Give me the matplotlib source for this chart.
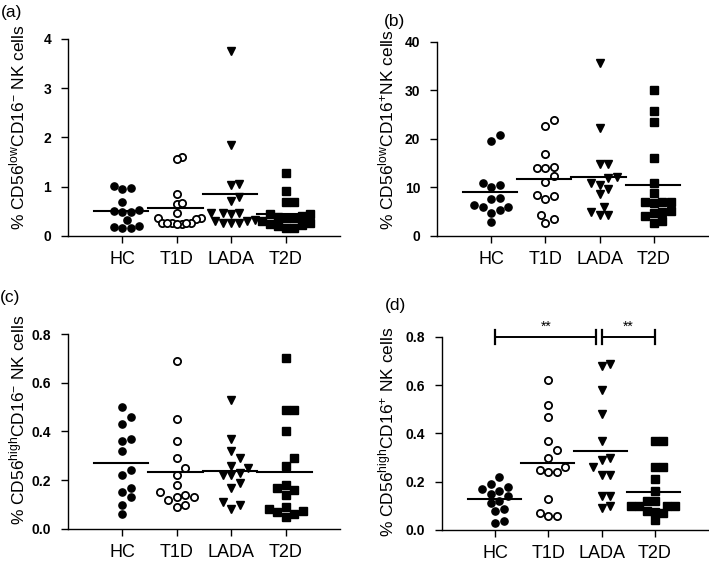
import numpy as np
import matplotlib
matplotlib.use('Agg')
import matplotlib.pyplot as plt

plt.rcParams.update({
    'font.family': 'Liberation Sans',
    'mathtext.fontset': 'custom',
    'mathtext.rm': 'Liberation Sans',
    'mathtext.it': 'Liberation Sans:italic',
    'mathtext.bf': 'Liberation Sans:bold',
})

# ── Data ─────────────────────────────────────────────────────────────────────
GROUPS = ['HC', 'T1D', 'LADA', 'T2D']

# (a) CD56low CD16- NK cells
A_HC = [1.02, 0.95, 0.98, 0.70, 0.53, 0.49, 0.49, 0.51, 0.32, 0.18, 0.16, 0.16, 0.21]
A_T1D = [1.60, 1.56, 0.86, 0.64, 0.66, 0.46, 0.37, 0.36, 0.35, 0.27, 0.26, 0.25, 0.26, 0.27, 0.25, 0.26]
A_LADA = [3.76, 1.84, 1.04, 1.06, 0.79, 0.71, 0.47, 0.46, 0.47, 0.45, 0.33, 0.30, 0.27, 0.27, 0.27, 0.30]
A_T2D = [1.27, 0.91, 0.68, 0.69, 0.45, 0.44, 0.40, 0.38, 0.37, 0.36, 0.30, 0.27, 0.25, 0.22, 0.20, 0.17, 0.16]
A_MEAN = [0.50, 0.57, 0.86, 0.45]

# (b) CD56low CD16+ NK cells
B_HC = [19.6, 20.8, 10.6, 10.2, 10.9, 7.8, 7.7, 6.4, 5.9, 4.7, 5.4, 6.0, 2.8]
B_T1D = [23.9, 22.7, 17.0, 14.1, 14.0, 14.3, 12.4, 11.2, 8.2, 7.6, 8.4, 4.3, 2.6, 3.4]
B_LADA = [35.6, 22.2, 14.8, 14.8, 11.9, 12.1, 10.9, 10.5, 9.7, 8.6, 6.0, 5.0, 4.3, 4.3]
B_T2D = [30.0, 25.8, 23.4, 16.1, 10.9, 8.9, 6.9, 7.1, 7.0, 7.0, 4.9, 4.1, 4.8, 5.1, 2.6, 3.1]
B_MEAN = [9.1, 11.7, 12.1, 10.5]

# (c) CD56high CD16- NK cells
C_HC = [0.50, 0.46, 0.43, 0.36, 0.37, 0.32, 0.24, 0.22, 0.17, 0.15, 0.13, 0.10, 0.06]
C_T1D = [0.69, 0.45, 0.36, 0.29, 0.25, 0.22, 0.18, 0.15, 0.13, 0.12, 0.14, 0.13, 0.10, 0.09]
C_LADA = [0.53, 0.37, 0.32, 0.29, 0.26, 0.25, 0.23, 0.22, 0.22, 0.19, 0.17, 0.11, 0.10, 0.08]
C_T2D = [0.70, 0.49, 0.49, 0.40, 0.29, 0.26, 0.18, 0.16, 0.14, 0.17, 0.08, 0.07, 0.05, 0.06, 0.075, 0.09]
C_MEAN = [0.27, 0.235, 0.239, 0.232]

# (d) CD56high CD16+ NK cells
D_HC = [0.22, 0.18, 0.19, 0.17, 0.16, 0.14, 0.15, 0.12, 0.11, 0.087, 0.079, 0.03, 0.037]
D_T1D = [0.62, 0.52, 0.47, 0.37, 0.33, 0.30, 0.25, 0.24, 0.24, 0.26, 0.13, 0.07, 0.06, 0.06]
D_LADA = [0.69, 0.68, 0.58, 0.48, 0.37, 0.30, 0.29, 0.26, 0.23, 0.23, 0.14, 0.14, 0.09, 0.10]
D_T2D = [0.37, 0.37, 0.26, 0.26, 0.21, 0.16, 0.12, 0.12, 0.10, 0.10, 0.10, 0.10, 0.076, 0.069, 0.079, 0.04]
D_MEAN = [0.128, 0.279, 0.327, 0.156]

# significance brackets in (d): (x start, x end, label)
D_SIG = [(1.0, 2.9, '**'), (3.0, 4.0, '**')]

# ── Styles ───────────────────────────────────────────────────────────────────
MARKERS = [
    dict(marker='o', color='black', markerfacecolor='black'),
    dict(marker='o', color='black', markerfacecolor='white', markeredgewidth=1.3),
    dict(marker='v', color='black', markerfacecolor='black'),
    dict(marker='s', color='black', markerfacecolor='black'),
]

fig = plt.figure(figsize=(7.09, 5.64), dpi=100)


def swarm_x(ax, x0, values, diam=8.5, max_half=24.0):
    """Spread points with close values sideways, like a GraphPad scatter."""
    pts = ax.transData.transform(np.column_stack([np.full(len(values), x0), values]))
    ys = pts[:, 1]
    step = diam / 2.0
    placed = []
    off = np.zeros(len(values))
    for i in np.argsort(ys):
        k = 0
        chosen = None
        while chosen is None:
            cands = [0.0] if k == 0 else [k * step, -k * step]
            for c in cands:
                if all((c - px) ** 2 + (ys[i] - py) ** 2 >= diam ** 2 for px, py in placed):
                    chosen = c
                    break
            k += 1
        placed.append((chosen, ys[i]))
        off[i] = chosen
    widest = np.abs(off).max()
    if widest > max_half:
        off = off * max_half / widest
    px_per_unit = ax.transData.transform((1, 0))[0] - ax.transData.transform((0, 0))[0]
    return x0 + off / px_per_unit


def panel(rect, data, means, ymax, yticks, fmt, ylabel, letter, letter_xy, label_xy):
    ax = fig.add_axes(rect)
    ax.set_xlim(0, 5)
    ax.set_ylim(0, ymax)
    for s in ['top', 'right']:
        ax.spines[s].set_visible(False)
    for s in ['left', 'bottom']:
        ax.spines[s].set_linewidth(1.0)
    ax.set_xticks(range(1, 5))
    ax.set_xticklabels(GROUPS, fontsize=13)
    ax.set_yticks(yticks)
    ax.set_yticklabels([fmt.format(t) for t in yticks], fontsize=10, fontweight='bold')
    ax.tick_params(axis='x', length=5, width=1.0, pad=6)
    ax.tick_params(axis='y', length=5, width=1.0, pad=7)

    for i, vals in enumerate(data):
        xs = swarm_x(ax, i + 1, vals)
        ax.plot(xs, vals, linestyle='none', markersize=5.2, clip_on=False, **MARKERS[i])
        ax.plot([i + 1 - 0.52, i + 1 + 0.48], [means[i], means[i]], color='black', lw=1.5)

    ax.set_ylabel(ylabel, fontsize=12.5)
    ax.yaxis.set_label_coords(*label_xy)
    fig.text(letter_xy[0], letter_xy[1], letter, fontsize=12.5, ha='center', va='center')
    return ax


panel([0.0959, 0.5816, 0.3836, 0.3493], [A_HC, A_T1D, A_LADA, A_T2D], A_MEAN,
      4, [0, 1, 2, 3, 4], '{:.0f}', r'% CD56$^{\rm low}$CD16$^{-}$ NK cells',
      '(a)', (0.017, 0.978), (-0.15, 0.55))
panel([0.6164, 0.5816, 0.3822, 0.3440], [B_HC, B_T1D, B_LADA, B_T2D], B_MEAN,
      40, [0, 10, 20, 30, 40], '{:.0f}', r'% CD56$^{\rm low}$CD16$^{+}$NK cells',
      '(b)', (0.557, 0.962), (-0.15, 0.55))
panel([0.0959, 0.0621, 0.3836, 0.3457], [C_HC, C_T1D, C_LADA, C_T2D], C_MEAN,
      0.8, [0, 0.2, 0.4, 0.6, 0.8], '{:.1f}', r'% CD56$^{\rm high}$CD16$^{-}$ NK cells',
      '(c)', (0.014, 0.472), (-0.15, 0.56))
axd = panel([0.6234, 0.0603, 0.3752, 0.3422], [D_HC, D_T1D, D_LADA, D_T2D], D_MEAN,
            0.8, [0, 0.2, 0.4, 0.6, 0.8], '{:.1f}', r'% CD56$^{\rm high}$CD16$^{+}$ NK cells',
            '(d)', (0.558, 0.459), (-0.17, 0.51))

for x1, x2, lab in D_SIG:
    axd.plot([x1, x2], [0.8, 0.8], color='black', lw=1.4, clip_on=False)
    for xe in (x1, x2):
        axd.plot([xe, xe], [0.772, 0.828], color='black', lw=1.6, clip_on=False)
    axd.text((x1 + x2) / 2, 0.812, lab, ha='center', va='bottom', fontsize=10)

fig.savefig('out.png', dpi=100, facecolor='white')
